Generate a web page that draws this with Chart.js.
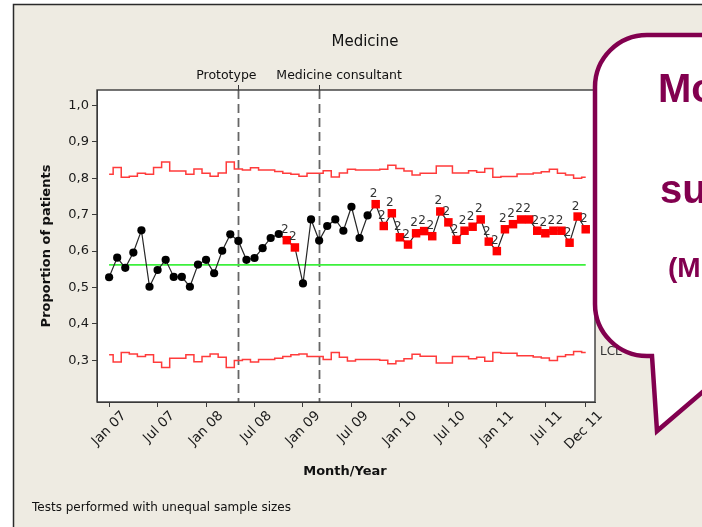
<!DOCTYPE html>
<html>
<head>
<meta charset="utf-8">
<script src="https://cdn.jsdelivr.net/npm/chart.js@4.4.1/dist/chart.umd.min.js"></script>
<style>
  html, body { margin: 0; padding: 0; background: #fff; }
  #wrap { width: 702px; height: 527px; }
</style>
</head>
<body>
<div id="wrap"><canvas id="chart" width="702" height="527"></canvas></div>
<script>
// monthly proportion, Jan 07 .. Dec 11 (index 0..59)
const proportion = [0.528, 0.582, 0.554, 0.596, 0.657, 0.502, 0.548, 0.576, 0.529, 0.529,
  0.502, 0.563, 0.576, 0.539, 0.601, 0.646, 0.628, 0.576, 0.581, 0.608,
  0.636, 0.647, 0.630, 0.610, 0.511, 0.687, 0.629, 0.669, 0.687, 0.656,
  0.722, 0.636, 0.698, 0.729, 0.669, 0.704, 0.638, 0.618, 0.649, 0.655,
  0.641, 0.709, 0.679, 0.631, 0.656, 0.667, 0.687, 0.626, 0.600, 0.660,
  0.674, 0.687, 0.687, 0.656, 0.649, 0.656, 0.656, 0.623, 0.695, 0.660];

// failed test number per point (0 = none)
const testFailed = [0, 0, 0, 0, 0, 0, 0, 0, 0, 0,
  0, 0, 0, 0, 0, 0, 0, 0, 0, 0,
  0, 0, 2, 2, 0, 0, 0, 0, 0, 0,
  0, 0, 0, 2, 2, 2, 2, 2, 2, 2,
  2, 2, 2, 2, 2, 2, 2, 2, 2, 2,
  2, 2, 2, 2, 2, 2, 2, 2, 2, 2];

const ucl = [0.811, 0.830, 0.803, 0.806, 0.814, 0.811, 0.830, 0.845, 0.820, 0.820,
  0.811, 0.826, 0.814, 0.806, 0.815, 0.845, 0.826, 0.823, 0.829, 0.823,
  0.823, 0.819, 0.814, 0.811, 0.806, 0.814, 0.814, 0.821, 0.804, 0.815,
  0.825, 0.823, 0.823, 0.823, 0.825, 0.836, 0.827, 0.820, 0.809, 0.814,
  0.814, 0.834, 0.834, 0.815, 0.815, 0.821, 0.817, 0.827, 0.803, 0.805,
  0.805, 0.812, 0.812, 0.815, 0.818, 0.825, 0.814, 0.809, 0.800, 0.803];

const lcl = [0.315, 0.295, 0.321, 0.317, 0.310, 0.315, 0.294, 0.280, 0.305, 0.305,
  0.315, 0.296, 0.310, 0.317, 0.308, 0.280, 0.299, 0.302, 0.295, 0.302,
  0.302, 0.305, 0.310, 0.315, 0.317, 0.310, 0.310, 0.302, 0.321, 0.308,
  0.298, 0.302, 0.302, 0.302, 0.300, 0.290, 0.298, 0.304, 0.316, 0.311,
  0.311, 0.292, 0.292, 0.310, 0.310, 0.304, 0.308, 0.297, 0.321, 0.319,
  0.319, 0.312, 0.312, 0.309, 0.306, 0.299, 0.310, 0.315, 0.324, 0.321];

const centerLine = 0.562;

const xTickPos = [0, 6, 12, 18, 24, 30, 36, 42, 48, 54, 59];
const xTickLabels = ["Jan 07", "Jul 07", "Jan 08", "Jul 08", "Jan 09", "Jul 09",
  "Jan 10", "Jul 10", "Jan 11", "Jul 11", "Dec 11"];
const yTicks = [0.3, 0.4, 0.5, 0.6, 0.7, 0.8, 0.9, 1.0];

const stages = [16, 26];
const stageNames = ["Prototype", "Medicine consultant"];

const FONT = "'DejaVu Sans', Verdana, sans-serif";
const PURPLE = "#82004f";

const pts = arr => arr.map((v, i) => ({ x: i, y: v }));

const decor = {
  id: "decor",
  beforeDraw(chart) {
    const ctx = chart.ctx;
    ctx.save();
    ctx.fillStyle = "#fff";
    ctx.fillRect(0, 0, 702, 527);
    ctx.fillStyle = "#eeebe2";
    ctx.fillRect(13, 4, 700, 530);
    ctx.strokeStyle = "#2a2a2a";
    ctx.lineWidth = 1.5;
    ctx.beginPath();
    ctx.moveTo(13.5, 530);
    ctx.lineTo(13.5, 4.5);
    ctx.lineTo(705, 4.5);
    ctx.stroke();
    const a = chart.chartArea;
    ctx.fillStyle = "#fff";
    ctx.fillRect(a.left, a.top, a.right - a.left, a.bottom - a.top);
    ctx.restore();
  },
  beforeDatasetsDraw(chart) {
    const ctx = chart.ctx, a = chart.chartArea, x = chart.scales.x;
    ctx.save();
    ctx.strokeStyle = "#666";
    ctx.lineWidth = 1.8;
    ctx.setLineDash([9, 5]);
    stages.forEach(s => {
      const px = Math.round(x.getPixelForValue(s)) + 0.5;
      ctx.beginPath();
      ctx.moveTo(px, a.top);
      ctx.lineTo(px, a.bottom);
      ctx.stroke();
    });
    ctx.setLineDash([]);
    ctx.lineWidth = 1;
    ctx.strokeStyle = "#333";
    stages.forEach(s => {
      const px = Math.round(x.getPixelForValue(s)) + 0.5;
      ctx.beginPath();
      ctx.moveTo(px, a.top - 5);
      ctx.lineTo(px, a.top);
      ctx.stroke();
    });
    ctx.restore();
  },
  afterDatasetsDraw(chart) {
    const ctx = chart.ctx, a = chart.chartArea;
    const x = chart.scales.x, y = chart.scales.y;
    ctx.save();
    // test labels
    ctx.fillStyle = "#333";
    ctx.font = "12px " + FONT;
    ctx.textAlign = "center";
    ctx.textBaseline = "alphabetic";
    testFailed.forEach((t, i) => {
      if (!t) return;
      ctx.fillText(String(t), x.getPixelForValue(i) - 2, y.getPixelForValue(proportion[i]) - 7);
    });
    // frame
    ctx.strokeStyle = "#3a3a3a";
    ctx.lineWidth = 1.4;
    ctx.strokeRect(a.left, a.top, a.right - a.left, a.bottom - a.top);
    // titles
    ctx.fillStyle = "#111";
    ctx.textBaseline = "middle";
    ctx.font = "15px " + FONT;
    ctx.fillText("Medicine", 365, 42);
    ctx.font = "12.5px " + FONT;
    ctx.fillText(stageNames[0], x.getPixelForValue(stages[0]) - 12, 76);
    ctx.fillText(stageNames[1], x.getPixelForValue(stages[1]) + 20, 76);
    ctx.font = "bold 13px " + FONT;
    ctx.fillText("Month/Year", 345, 472);
    ctx.save();
    ctx.translate(47, 246);
    ctx.rotate(-Math.PI / 2);
    ctx.fillText("Proportion of patients", 0, 0);
    ctx.restore();
    ctx.textAlign = "left";
    ctx.font = "12px " + FONT;
    ctx.fillText("Tests performed with unequal sample sizes", 32, 508);
    ctx.fillStyle = "#333";
    ctx.fillText("LCL", a.right + 5, 352);
    ctx.fillText("UCL", a.right + 5, 171);
    ctx.restore();
  },
  afterDraw(chart) {
    const ctx = chart.ctx;
    const L = 595, T = 35, R = 740, B = 356, r = 52;
    ctx.save();
    ctx.beginPath();
    ctx.moveTo(L, T + r);
    ctx.arcTo(L, T, L + r, T, r);
    ctx.lineTo(R, T);
    ctx.lineTo(R, 360);
    ctx.lineTo(657, 431);
    ctx.lineTo(652, B);
    ctx.lineTo(L + r, B);
    ctx.arcTo(L, B, L, B - r, r);
    ctx.closePath();
    ctx.fillStyle = "#fff";
    ctx.fill();
    ctx.strokeStyle = PURPLE;
    ctx.lineWidth = 4.5;
    ctx.lineJoin = "miter";
    ctx.stroke();
    ctx.fillStyle = PURPLE;
    ctx.textAlign = "left";
    ctx.textBaseline = "alphabetic";
    ctx.font = "bold 40px 'Liberation Sans', Arial, sans-serif";
    ctx.fillText("Mo", 658, 102);
    ctx.fillText("su", 660, 203);
    ctx.font = "bold 28px 'Liberation Sans', Arial, sans-serif";
    ctx.fillText("(M", 668, 277);
    ctx.restore();
  }
};

new Chart(document.getElementById("chart"), {
  type: "line",
  data: {
    datasets: [
      {
        label: "Proportion",
        data: pts(proportion),
        borderColor: "#262626",
        borderWidth: 1.2,
        pointStyle: testFailed.map(t => (t ? "rect" : "circle")),
        pointRadius: testFailed.map(t => (t ? 6 : 4.1)),
        pointBackgroundColor: testFailed.map(t => (t ? "#ff0000" : "#000")),
        pointBorderWidth: 0,
        tension: 0
      },
      {
        label: "CL",
        data: [{ x: 0, y: centerLine }, { x: 59, y: centerLine }],
        borderColor: "#3cf03c",
        borderWidth: 1.6,
        pointRadius: 0
      },
      {
        label: "UCL",
        data: pts(ucl),
        borderColor: "#ff3b3b",
        borderWidth: 1.5,
        stepped: "middle",
        pointRadius: 0
      },
      {
        label: "LCL",
        data: pts(lcl),
        borderColor: "#ff3b3b",
        borderWidth: 1.5,
        stepped: "middle",
        pointRadius: 0
      }
    ]
  },
  options: {
    responsive: false,
    animation: false,
    layout: { padding: { top: 90, right: 107, left: 0, bottom: 0 } },
    plugins: { legend: { display: false }, tooltip: { enabled: false } },
    scales: {
      x: {
        type: "linear",
        min: -1.5,
        max: 60.15,
        afterBuildTicks: s => { s.ticks = xTickPos.map(v => ({ value: v })); },
        afterFit: s => { s.height = 125; },
        ticks: {
          callback: (v, i) => xTickLabels[i],
          autoSkip: false,
          minRotation: 45,
          maxRotation: 45,
          labelOffset: 15,
          padding: 1,
          color: "#1a1a1a",
          font: { family: FONT, size: 13.5 }
        },
        grid: { drawOnChartArea: false, drawTicks: true, tickLength: 5, color: "#3a3a3a" },
        border: { display: true, color: "#3a3a3a" }
      },
      y: {
        type: "linear",
        min: 0.185,
        max: 1.043,
        afterBuildTicks: s => { s.ticks = yTicks.map(v => ({ value: v })); },
        afterFit: s => { s.width = 97; },
        ticks: {
          callback: v => v.toFixed(1).replace(".", ","),
          padding: 3,
          color: "#1a1a1a",
          font: { family: FONT, size: 13 }
        },
        grid: { drawOnChartArea: false, drawTicks: true, tickLength: 5, color: "#3a3a3a" },
        border: { display: true, color: "#3a3a3a" }
      }
    }
  },
  plugins: [decor]
});
</script>
</body>
</html>
